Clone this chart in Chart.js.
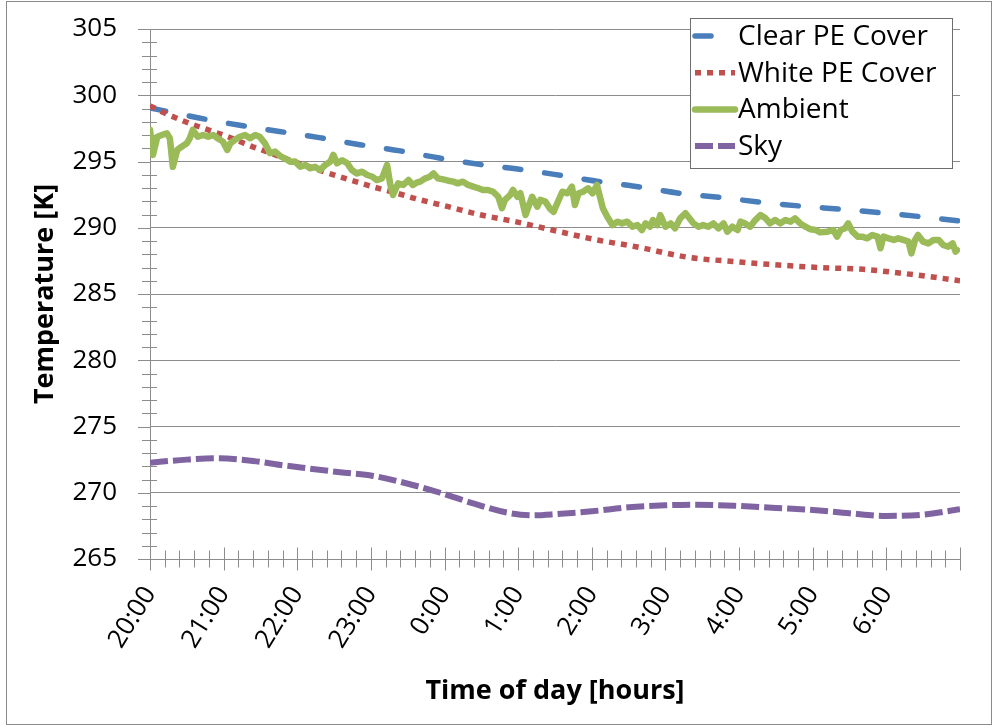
<!DOCTYPE html>
<html>
<head>
<meta charset="utf-8">
<title>Night-time temperatures</title>
<script src="https://cdn.jsdelivr.net/npm/chart.js@4.4.1/dist/chart.umd.min.js"></script>
<style>
  html, body { margin: 0; padding: 0; background: #fff; }
  #frame { position: absolute; left: 6px; top: 1px; width: 984px; height: 722px; border: 1px solid #8a8a8a; }
  #wrap { position: absolute; left: 0; top: 0; width: 998px; height: 728px; }
</style>
</head>
<body>
<div id="frame"></div>
<div id="wrap"><canvas id="tempChart" width="998" height="728"></canvas></div>
<script>
// hours after 20:00
const hourLabels = ["20:00", "21:00", "22:00", "23:00", "0:00", "1:00", "2:00", "3:00", "4:00", "5:00", "6:00"];
const yTicks = [265, 270, 275, 280, 285, 290, 295, 300, 305];

const clearHours = [0, 0.65, 1.2, 2.3, 2.85, 3.4, 3.93, 4.5, 5.04, 5.57, 6.11, 6.65, 7.2, 7.77, 8.3, 8.87, 9.42, 9.99, 10.53, 11];
const clearTemps = [299.05, 298.3, 297.75, 296.8, 296.27, 295.8, 295.26, 294.76, 294.4, 293.96, 293.48, 293.08, 292.6, 292.27, 291.92, 291.62, 291.38, 291.09, 290.8, 290.5];

const whiteHours = [0, 0.16, 0.48, 0.79, 1.06, 1.33, 1.52, 1.77, 2.4, 2.72, 2.99, 3.44, 3.64, 4.05, 4.5, 4.96, 5.46, 6.07, 6.6, 7.31, 7.95, 8.4, 9.08, 9.69, 10.15, 10.6, 11];
const whiteTemps = [299.2, 298.76, 298.0, 297.38, 296.87, 296.25, 295.87, 295.36, 294.16, 293.6, 293.15, 292.47, 292.15, 291.59, 290.96, 290.46, 289.83, 289.08, 288.57, 287.77, 287.44, 287.24, 287.0, 286.86, 286.6, 286.3, 286.0];

const ambientHours = [
  0, 0.04, 0.10, 0.16, 0.23, 0.27, 0.31, 0.37, 0.43, 0.50, 0.54, 0.58, 0.65, 0.72, 0.79, 0.86, 0.92, 0.99,
  1.05, 1.09, 1.15, 1.22, 1.29, 1.36, 1.43, 1.49, 1.56, 1.63, 1.70, 1.77, 1.83, 1.90, 1.97,
  2.04, 2.11, 2.17, 2.24, 2.31, 2.38, 2.45, 2.49, 2.54, 2.61, 2.68, 2.74, 2.81, 2.88, 2.95,
  3.02, 3.08, 3.15, 3.22, 3.26, 3.30, 3.37, 3.44, 3.51, 3.57, 3.62, 3.67, 3.74, 3.80, 3.85, 3.91, 3.98,
  4.05, 4.12, 4.18, 4.25, 4.32, 4.39, 4.46, 4.52, 4.59, 4.66, 4.73, 4.78, 4.82, 4.89, 4.93, 4.99,
  5.03, 5.10, 5.14, 5.19, 5.26, 5.30, 5.37, 5.43, 5.48, 5.53, 5.60, 5.67, 5.73, 5.77, 5.82, 5.88, 5.95,
  6.01, 6.07, 6.11, 6.15, 6.21, 6.28, 6.35, 6.41, 6.48, 6.55, 6.62, 6.68, 6.73, 6.79, 6.83, 6.89, 6.93,
  7.00, 7.07, 7.13, 7.20, 7.27, 7.31, 7.38, 7.45, 7.51, 7.58, 7.65, 7.72, 7.79, 7.84, 7.91, 7.98,
  8.02, 8.08, 8.15, 8.22, 8.29, 8.36, 8.42, 8.49, 8.56, 8.63, 8.70, 8.76, 8.83, 8.90, 8.97,
  9.04, 9.10, 9.20, 9.28, 9.33, 9.38, 9.44, 9.48, 9.54, 9.61, 9.67, 9.74, 9.81, 9.88, 9.92, 9.96,
  10.03, 10.10, 10.16, 10.23, 10.30, 10.34, 10.39, 10.43, 10.50, 10.57, 10.64, 10.71, 10.77, 10.84, 10.90, 10.94, 10.96
];
const ambientTemps = [
  297.4, 295.5, 296.87, 297.0, 297.13, 296.75, 294.6, 295.87, 296.12, 296.37, 296.75, 297.38, 296.87, 297.0, 296.87, 297.0, 296.75, 296.5,
  295.87, 296.37, 296.62, 296.87, 297.0, 296.75, 297.0, 296.87, 296.37, 295.62, 295.75, 295.4, 295.24, 294.99, 295.0,
  294.6, 294.74, 294.49, 294.6, 294.36, 294.74, 295.0, 295.5, 294.86, 295.1, 294.86, 294.36, 294.1, 294.23, 293.98,
  293.85, 293.6, 293.73, 294.74, 293.35, 292.47, 293.35, 293.23, 293.6, 293.23, 293.4, 293.48, 293.73, 293.85, 294.1, 293.73, 293.65,
  293.55, 293.48, 293.35, 293.48, 293.23, 293.1, 292.98, 292.85, 292.85, 292.72, 292.34, 291.47, 292.1, 292.47, 292.85, 292.34,
  292.6, 290.96, 291.59, 292.34, 291.59, 292.1, 291.97, 291.45, 291.2, 291.85, 292.72, 292.6, 293.1, 291.72, 292.6, 292.72, 292.98,
  292.6, 293.23, 292.34, 291.47, 290.83, 290.2, 290.46, 290.33, 290.46, 290.08, 290.2, 289.83, 290.33, 290.08, 290.58, 290.2, 290.96,
  290.08, 290.33, 289.96, 290.71, 291.1, 290.83, 290.33, 290.08, 290.2, 290.08, 290.33, 289.96, 290.33, 289.7, 290.08, 289.83,
  290.46, 290.33, 290.08, 290.58, 290.96, 290.71, 290.33, 290.58, 290.33, 290.58, 290.46, 290.71, 290.33, 290.08, 289.88,
  289.83, 289.65, 289.7, 289.83, 289.33, 289.83, 289.96, 290.33, 289.7, 289.33, 289.33, 289.2, 289.45, 289.33, 288.45, 289.33,
  289.2, 289.08, 289.2, 289.08, 288.95, 288.07, 289.08, 289.45, 288.95, 288.82, 289.08, 289.08, 288.7, 288.57, 288.82, 288.2, 288.32
];

const skyHours = [0, 0.5, 0.9, 1.4, 1.77, 2.13, 2.58, 3.03, 3.49, 3.94, 4.39, 4.85, 5.21, 5.53, 6, 6.5, 7, 7.4, 8, 8.5, 9, 9.5, 10, 10.5, 11];
const skyTemps = [272.27, 272.5, 272.6, 272.4, 272.1, 271.85, 271.55, 271.27, 270.7, 270.0, 269.2, 268.5, 268.3, 268.4, 268.6, 268.9, 269.05, 269.1, 269.0, 268.85, 268.7, 268.45, 268.25, 268.35, 268.75];

const toPoints = (xs, ys) => xs.map((x, i) => ({ x, y: ys[i] }));

Chart.defaults.font.family = "'Open Sans', sans-serif";
Chart.defaults.color = "#000";

const GRID = "#8c8c8c";

// small tick marks crossing both axes, like the spreadsheet style
const crossTicks = {
  id: "crossTicks",
  beforeDatasetsDraw(chart) {
    const { ctx, scales: { x, y } } = chart;
    const axisX = x.left;
    const axisY = y.bottom;
    ctx.save();
    ctx.strokeStyle = GRID;
    ctx.lineWidth = 1;
    ctx.beginPath();
    for (let v = 265; v <= 305; v++) {
      const py = Math.round(y.getPixelForValue(v)) + 0.5;
      if (v % 5 === 0) {
        ctx.moveTo(axisX - 12, py); ctx.lineTo(axisX, py);
      } else {
        ctx.moveTo(axisX - 8, py); ctx.lineTo(axisX + 7, py);
      }
    }
    for (let i = 0; i <= 55; i++) {
      const px = Math.round(x.getPixelForValue(i / 5)) + 0.5;
      const len = i % 5 === 0 ? 11.5 : 8.5;
      ctx.moveTo(px, axisY - len); ctx.lineTo(px, axisY + len);
    }
    ctx.stroke();
    ctx.restore();
  }
};

// boxed legend in the top right corner
const legendBox = {
  id: "legendBox",
  afterDraw(chart) {
    const ctx = chart.ctx;
    ctx.save();
    ctx.fillStyle = "#fff";
    ctx.fillRect(690, 18, 262, 150);
    ctx.strokeStyle = "#6e6e6e";
    ctx.lineWidth = 1;
    ctx.strokeRect(690.5, 18.5, 262, 150);
    ctx.font = "28px 'Open Sans', sans-serif";
    ctx.textBaseline = "middle";
    ctx.textAlign = "left";
    chart.data.datasets.forEach((ds, i) => {
      const ly = 36 + i * 36.7;
      ctx.strokeStyle = ds.borderColor;
      ctx.lineWidth = ds.borderWidth;
      ctx.lineCap = ds.borderCapStyle || "butt";
      ctx.setLineDash(ds.borderDash || []);
      ctx.beginPath();
      ctx.moveTo(695, ly);
      ctx.lineTo(735, ly);
      ctx.stroke();
      ctx.setLineDash([]);
      ctx.fillStyle = "#000";
      ctx.fillText(ds.label, 738, ly + 1);
    });
    ctx.restore();
  }
};

new Chart(document.getElementById("tempChart"), {
  type: "line",
  data: {
    datasets: [
      {
        label: "Clear PE Cover",
        data: toPoints(clearHours, clearTemps),
        borderColor: "#4a7ebb",
        borderWidth: 5.5,
        borderDash: [16, 24],
        borderCapStyle: "round",
        cubicInterpolationMode: "monotone",
        pointRadius: 0,
        order: 2
      },
      {
        label: "White PE Cover",
        data: toPoints(whiteHours, whiteTemps),
        borderColor: "#c0504d",
        borderWidth: 5.5,
        borderDash: [6, 6],
        borderCapStyle: "butt",
        cubicInterpolationMode: "monotone",
        pointRadius: 0,
        order: 1
      },
      {
        label: "Ambient",
        data: toPoints(ambientHours, ambientTemps),
        borderColor: "#9bbb59",
        borderWidth: 6.5,
        borderJoinStyle: "round",
        borderCapStyle: "round",
        tension: 0,
        pointRadius: 0,
        order: 0
      },
      {
        label: "Sky",
        data: toPoints(skyHours, skyTemps),
        borderColor: "#8064a2",
        borderWidth: 6,
        borderDash: [18, 5],
        borderCapStyle: "butt",
        cubicInterpolationMode: "monotone",
        pointRadius: 0,
        order: 3
      }
    ]
  },
  options: {
    responsive: false,
    animation: false,
    layout: { padding: { left: 0, top: 29, right: 38, bottom: 0 } },
    plugins: { legend: { display: false }, tooltip: { enabled: false } },
    scales: {
      x: {
        type: "linear",
        min: 0,
        max: 11,
        afterFit: (s) => { s.height = 169; s.paddingLeft = 0; s.paddingRight = 0; },
        afterBuildTicks: (s) => { s.ticks = hourLabels.map((_, i) => ({ value: i })); },
        ticks: {
          autoSkip: false,
          minRotation: 58,
          maxRotation: 58,
          padding: 22,
          font: { size: 26 },
          callback: (v) => hourLabels[v] ?? ""
        },
        grid: { display: false, drawTicks: false },
        border: { display: true, color: GRID, width: 1 },
        title: {
          display: true,
          text: "Time of day [hours]",
          font: { size: 27, weight: "bold" },
          padding: { top: 0, bottom: 20 }
        }
      },
      y: {
        min: 265,
        max: 305,
        afterFit: (s) => { s.width = 150; s.paddingTop = 0; s.paddingBottom = 0; },
        afterBuildTicks: (s) => { s.ticks = yTicks.map((v) => ({ value: v })); },
        ticks: { padding: 33, font: { size: 26 } },
        grid: { color: GRID, lineWidth: 1, drawTicks: false },
        border: { display: true, color: GRID, width: 1 },
        title: {
          display: true,
          text: "Temperature [K]",
          font: { size: 27, weight: "bold" },
          padding: { top: 29, bottom: 0 }
        }
      }
    }
  },
  plugins: [crossTicks, legendBox]
});
</script>
</body>
</html>
